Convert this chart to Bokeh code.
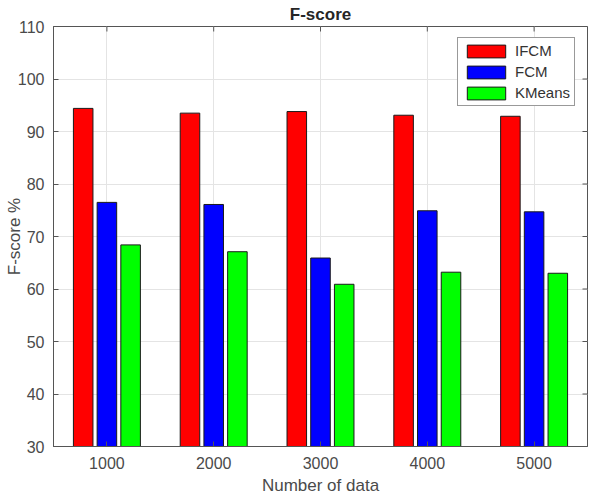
import math
from bokeh.plotting import figure
from bokeh.models import ColumnDataSource, FactorRange, Range1d, Legend, LegendItem, FixedTicker
from bokeh.transform import dodge
from bokeh.embed import file_html
from bokeh.resources import INLINE

categories = ["1000", "2000", "3000", "4000", "5000"]
ifcm = [94.4, 93.5, 93.8, 93.1, 92.9]
fcm = [76.5, 76.1, 65.9, 74.9, 74.7]
kmeans = [68.4, 67.1, 60.9, 63.2, 63.0]
y_ticks = [30, 40, 50, 60, 70, 80, 90, 100, 110]

src = ColumnDataSource(dict(cat=categories, ifcm=ifcm, fcm=fcm, kmeans=kmeans))

FONT = "Liberation Sans"
GRAY = "#4a4a4a"
AX = "#555555"

p = figure(width=612, height=497, x_range=FactorRange(*categories, range_padding=0),
           y_range=Range1d(y_ticks[0], y_ticks[-1]), output_backend="svg", toolbar_location=None,
           min_border_left=53, min_border_right=25, min_border_top=26, min_border_bottom=51,
           background_fill_color="white", border_fill_color="white")

p.title.text = "F-score"
p.title.align = "center"
p.title.text_font = FONT
p.title.text_font_size = "17px"
p.title.text_font_style = "bold"
p.title.text_color = "#262626"
p.title.offset = 0
p.title.standoff = 5

p.outline_line_color = AX
p.outline_line_width = 1

common = dict(bottom=y_ticks[0], width=0.183, source=src, line_color="#1a1a1a", line_width=1)
r1 = p.vbar(x=dodge("cat", -0.222, range=p.x_range), top="ifcm", fill_color="#ff0000", **common)
r2 = p.vbar(x=dodge("cat", 0.0, range=p.x_range), top="fcm", fill_color="#0000ff", **common)
r3 = p.vbar(x=dodge("cat", 0.222, range=p.x_range), top="kmeans", fill_color="#00ff00", **common)

# inside tick marks on the right and top edges of the box (clipped to the frame)
p.scatter(x=[(categories[-1], 0.5)] * len(y_ticks), y=y_ticks, marker="dash", size=10,
          line_color=AX, line_width=1)
p.scatter(x=categories, y=[y_ticks[-1]] * len(categories), marker="dash", size=10,
          angle=math.pi / 2, line_color=AX, line_width=1)

for ax in (p.xaxis[0], p.yaxis[0]):
    ax.axis_line_color = AX
    ax.major_tick_in = 5
    ax.major_tick_out = 0
    ax.minor_tick_line_color = None
    ax.major_tick_line_color = AX
    ax.major_label_text_font = FONT
    ax.major_label_text_font_size = "16px"
    ax.major_label_text_color = GRAY
    ax.axis_label_text_font = FONT
    ax.axis_label_text_font_size = "17px"
    ax.axis_label_text_font_style = "normal"
    ax.axis_label_text_color = GRAY

p.yaxis[0].ticker = FixedTicker(ticks=y_ticks)
p.yaxis[0].axis_label = "F-score %"
p.yaxis[0].major_label_standoff = 9
p.yaxis[0].axis_label_standoff = -9
p.xaxis[0].axis_label = "Number of data"
p.xaxis[0].major_label_standoff = 10
p.xaxis[0].axis_label_standoff = 4

p.xgrid.grid_line_color = "#e4e4e4"
p.ygrid.grid_line_color = "#e4e4e4"
p.ygrid.ticker = FixedTicker(ticks=y_ticks)

legend = Legend(items=[LegendItem(label="IFCM", renderers=[r1]),
                       LegendItem(label="FCM", renderers=[r2]),
                       LegendItem(label="KMeans", renderers=[r3])],
                location=(404, 340), glyph_width=48, glyph_height=16, label_height=16,
                label_text_font=FONT, label_text_font_size="15px", label_text_color="#333333",
                border_line_color="#333333", border_line_width=1, spacing=4, padding=4,
                margin=0, label_standoff=5, background_fill_alpha=1)
p.add_layout(legend, "center")

open("out.html", "w").write(file_html(p, INLINE))
